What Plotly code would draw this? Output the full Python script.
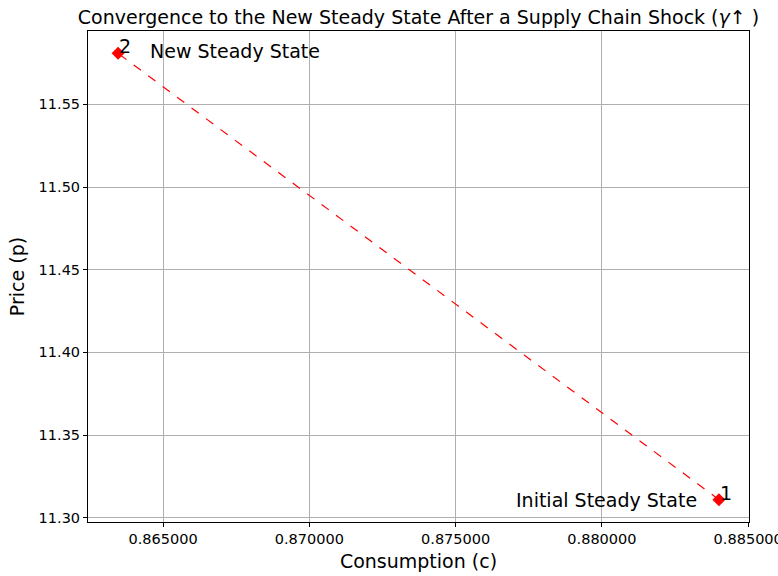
import plotly.graph_objects as go

consumption = [0.88400, 0.86346]
price = [11.3109, 11.5809]
point_labels = ["1", "2"]
state_labels = ["Initial Steady State", "New Steady State"]
x_ticks = [0.865, 0.870, 0.875, 0.880, 0.885]
y_ticks = [11.30, 11.35, 11.40, 11.45, 11.50, 11.55]

xspan = max(consumption) - min(consumption)
yspan = max(price) - min(price)
xr = [min(consumption) - 0.05 * xspan, max(consumption) + 0.05 * xspan]
yr = [min(price) - 0.05 * yspan, max(price) + 0.05 * yspan]

font = "DejaVu Sans"
fig = go.Figure()
fig.add_trace(go.Scatter(
    x=consumption, y=price, mode="lines+markers",
    line=dict(color="red", width=1.2, dash="dash"),
    marker=dict(symbol="diamond", size=10, color="red"),
    showlegend=False,
))

# number labels
for xv, yv, t in zip(consumption, price, point_labels):
    fig.add_annotation(x=xv, y=yv, text=t, showarrow=False, xanchor="left", yanchor="bottom",
                       xshift=-1, yshift=-6, font=dict(family=font, size=19, color="black"))

fig.add_annotation(x=consumption[0], y=price[0], text=state_labels[0], showarrow=False,
                   xanchor="right", yanchor="middle", xshift=-20, yshift=0,
                   font=dict(family=font, size=19, color="black"))
fig.add_annotation(x=consumption[1], y=price[1], text=state_labels[1], showarrow=False,
                   xanchor="left", yanchor="middle", xshift=30, yshift=2,
                   font=dict(family=font, size=19, color="black"))

axis_common = dict(showline=True, linecolor="black", linewidth=1, mirror=True,
                   ticks="outside", ticklen=4, tickcolor="black", automargin=False,
                   ticklabeloverflow="allow",
                   showgrid=True, gridcolor="#b0b0b0", gridwidth=0.8, zeroline=False,
                   tickfont=dict(family=font, size=14.5, color="black"))

fig.update_xaxes(range=xr, tickvals=x_ticks, tickformat=".6f",
                 title=dict(text="Consumption (c)", font=dict(family=font, size=19, color="black"), standoff=8),
                 **axis_common)
fig.update_yaxes(range=yr, tickvals=y_ticks, tickformat=".2f",
                 title=dict(text="Price (p)", font=dict(family=font, size=19, color="black"), standoff=8),
                 **axis_common)

fig.update_layout(
    width=778, height=576,
    margin=dict(l=88, r=29, t=31, b=54),
    plot_bgcolor="white", paper_bgcolor="white",
    title=dict(text="Convergence to the New Steady State After a Supply Chain Shock (<i>γ</i>↑ )",
               x=0.5, xref="paper", xanchor="center", y=1, yref="paper", yanchor="bottom",
               pad=dict(b=7),
               font=dict(family=font, size=19, color="black")),
)

fig.write_html("out.html", config={"displayModeBar": False},
               post_script="document.body.style.margin='0px';document.body.style.overflow='hidden';")
